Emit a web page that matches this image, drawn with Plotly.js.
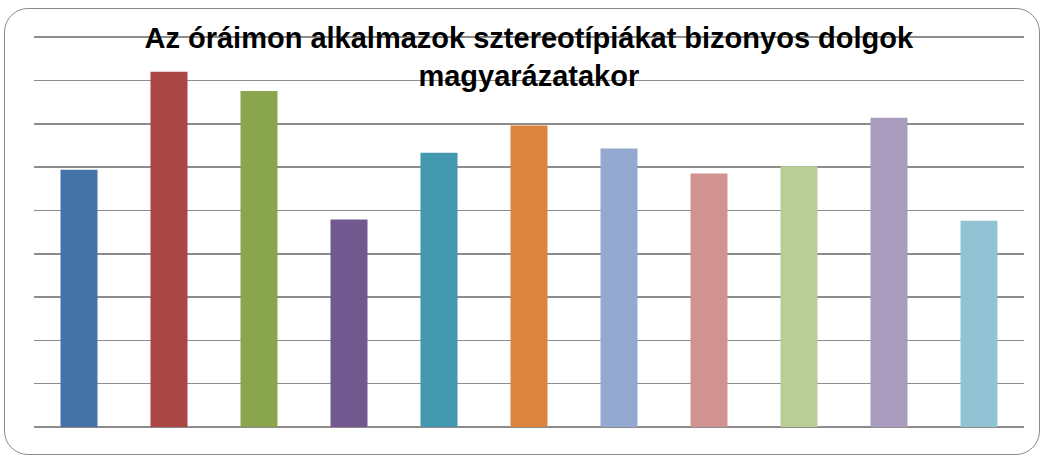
<!DOCTYPE html>
<html>
<head>
<meta charset="utf-8">
<script src="https://cdn.plot.ly/plotly-3.0.1.min.js"></script>
<style>
  html, body { margin: 0; padding: 0; background: #ffffff; }
  #wrap { position: relative; width: 1043px; height: 457px; overflow: hidden; }
  #frame { position: absolute; left: 4px; top: 8px; width: 1036px; height: 447px;
           border: 1.6px solid #8a8a8a; border-radius: 24px; box-sizing: border-box; pointer-events: none; }
  #chart { position: absolute; left: 0; top: 0; width: 1043px; height: 457px; }
</style>
</head>
<body>
<div id="wrap">
  <div id="chart"></div>
  <div id="frame"></div>
</div>
<script>
// Data (one gridline = 1 unit)
const categories = ["1", "2", "3", "4", "5", "6", "7", "8", "9", "10", "11"];
const values = [5.94, 8.20, 7.76, 4.79, 6.33, 6.96, 6.43, 5.85, 6.02, 7.14, 4.76];
const barColors = ["#4572A7", "#AA4643", "#89A54E", "#71588F", "#4198AF", "#DB843D",
                   "#93A9CF", "#D19392", "#B9CD96", "#A99BBD", "#92C3D5"];
const titleText = "Az óráimon alkalmazok sztereotípiákat bizonyos dolgok<br>magyarázatakor";

const trace = {
  type: "bar",
  x: categories,
  y: values,
  marker: { color: barColors, line: { width: 0 } },
  hoverinfo: "x+y"
};

const layout = {
  width: 1043,
  height: 457,
  margin: { l: 34, r: 19, t: 35.4, b: 29.6, pad: 0 },
  paper_bgcolor: "rgba(0,0,0,0)",
  plot_bgcolor: "rgba(0,0,0,0)",
  showlegend: false,
  bargap: 0.589,
  title: {
    text: titleText,
    font: { family: "Liberation Sans, Arial, sans-serif", size: 29, color: "#000000", weight: "bold" },
    x: 0.507,
    xanchor: "center",
    xref: "container",
    yref: "container",
    y: 1 - 48 / 457,
    yanchor: "top"
  },
  xaxis: {
    type: "category",
    showticklabels: false,
    showgrid: false,
    zeroline: false,
    showline: false,
    ticks: ""
  },
  yaxis: {
    range: [0, 9.05],
    dtick: 1,
    tick0: 0,
    showticklabels: false,
    showgrid: true,
    gridcolor: "#8c8c8c",
    gridwidth: 1.6,
    zeroline: true,
    zerolinecolor: "#8c8c8c",
    zerolinewidth: 1.6,
    showline: false,
    ticks: ""
  }
};

Plotly.newPlot("chart", [trace], layout, { displayModeBar: false, staticPlot: true });
</script>
</body>
</html>
